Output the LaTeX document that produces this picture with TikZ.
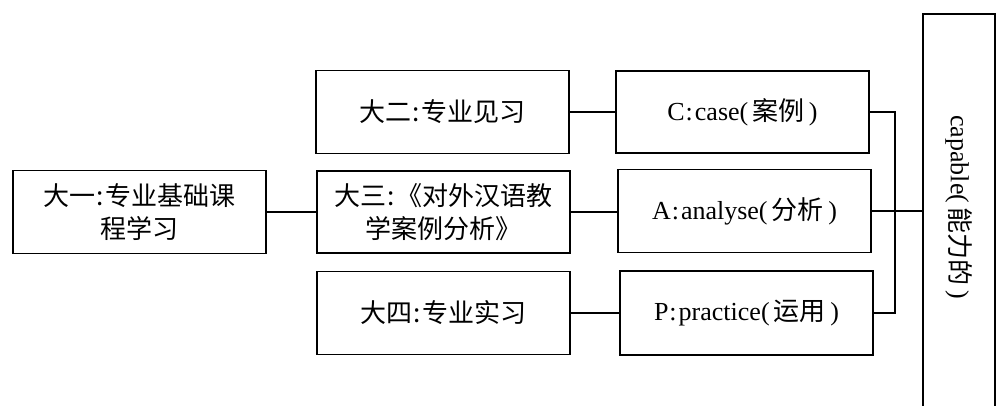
\documentclass[tikz,border=0pt]{standalone}
\usepackage{fontspec}
\setmainfont{Liberation Serif}
\newfontfamily\cjk{Noto Sans CJK SC}
\newcommand{\cc}{\hspace{1pt}:\hspace{2pt}}
\begin{document}
\begin{tikzpicture}[x=1pt,y=-1pt,
  box/.style={draw, line width=1.8pt, minimum width=253pt, minimum height=83pt, inner sep=0pt, align=center, font=\fontsize{26}{33}\selectfont},
  link/.style={line width=1.8pt}]
\useasboundingbox (0,0) rectangle (999,405);
\node[box] (y1) at (139.5,212) {\cjk 大一\cc 专业基础课\\\cjk 程学习};
\node[box] (y2) at (442.5,112) {\cjk 大二\cc 专业见习};
\node[box, minimum height=82pt] (y3) at (443.5,212) {\cjk 大三\cc《对外汉语教\\\cjk 学案例分析》};
\node[box] (y4) at (443.5,313) {\cjk 大四\cc 专业实习};
\node[box, minimum height=82pt] (c) at (742.5,112) {C\cc case(\,{\cjk 案例}\,)};
\node[box] (a) at (744.5,211) {A\cc analyse(\,{\cjk 分析}\,)};
\node[box, minimum height=84pt] (p) at (746.5,313) {P\cc practice(\,{\cjk 运用}\,)};
\node[draw, line width=1.8pt, minimum width=72pt, minimum height=420pt, inner sep=0pt, anchor=north] (big) at (959,13) {};
\node[rotate=-90, font=\fontsize{26}{33}\selectfont] (bigtxt) at (959,207) {capable(\,{\cjk 能力的}\,)};
\coordinate (jx) at (895,0);
\draw[link] (y1.east) -- (y1.east -| y3.west);
\draw[link] (y2.east) -- (y2.east -| c.west);
\draw[link] (y3.east) -- (y3.east -| a.west);
\draw[link] (y4.east) -- (y4.east -| p.west);
\draw[link] (c.east) -- (c.east -| jx) |- (p.east);
\draw[link] (a.east) -- (a.east -| big.west);
\end{tikzpicture}
\end{document}
